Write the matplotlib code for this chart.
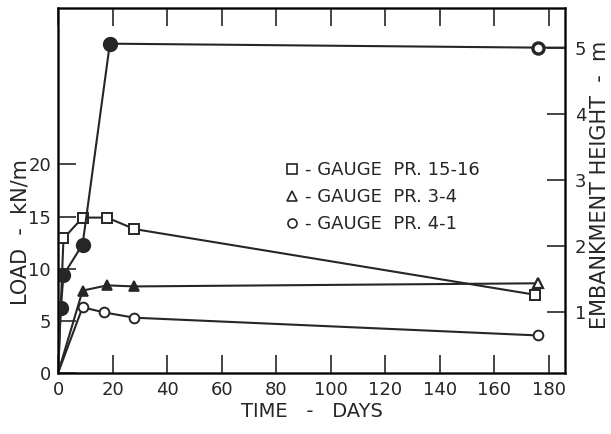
import matplotlib
matplotlib.use("Agg")
import matplotlib.pyplot as plt
from matplotlib.lines import Line2D

INK = "#262626"

# embankment height (m) vs time (days); last entry carries the line to the frame edge
EMB_DAYS = [0, 1, 2, 9, 19, 176, 186]
EMB_HEIGHT = [0.0, 1.06, 1.56, 2.02, 5.06, 5.0, 5.0]

# earth pressure gauges, load in kN/m
PR1516_DAYS = [0, 2, 9, 18, 28, 175]
PR1516_LOAD = [0.0, 12.9, 14.9, 14.9, 13.8, 7.5]

PR34_DAYS = [0, 9, 18, 28, 176]
PR34_LOAD = [0.0, 7.9, 8.4, 8.3, 8.6]

PR41_DAYS = [0, 9, 17, 28, 176]
PR41_LOAD = [0.0, 6.3, 5.8, 5.3, 3.6]

X_TICKS = [0, 20, 40, 60, 80, 100, 120, 140, 160, 180]
LOAD_TICKS = [0, 5, 10, 15, 20]
HEIGHT_TICKS = [1, 2, 3, 4, 5]

plt.rcParams["font.family"] = ["DejaVu Sans"]

fig = plt.figure(figsize=(6.11, 4.34), dpi=100)
ax = fig.add_axes([0.095, 0.1406, 0.83, 0.841])
ax2 = ax.twinx()

ax.set_xlim(0, 186)
ax.set_ylim(0, 35)
ax2.set_ylim(0.076, 5.6)

lw = 1.5
ax.plot(PR1516_DAYS, PR1516_LOAD, color=INK, lw=lw, marker="s", ms=6.5,
        mfc="white", mec=INK, mew=1.4, markevery=list(range(1, len(PR1516_DAYS))))
ax.plot(PR34_DAYS, PR34_LOAD, color=INK, lw=lw, marker="^", ms=7,
        mfc=INK, mec=INK, mew=1.2, markevery=list(range(1, len(PR34_DAYS) - 1)))
ax.plot(PR34_DAYS[-1:], PR34_LOAD[-1:], ls="none", marker="^", ms=7,
        mfc="white", mec=INK, mew=1.6)
ax.plot(PR41_DAYS, PR41_LOAD, color=INK, lw=lw, marker="o", ms=7,
        mfc="white", mec=INK, mew=1.4, markevery=list(range(1, len(PR41_DAYS))))

ax2.plot(EMB_DAYS, EMB_HEIGHT, color=INK, lw=lw, marker="o", ms=10,
         mfc=INK, mec=INK, markevery=[1, 2, 3, 4])
ax2.plot(EMB_DAYS[5:6], EMB_HEIGHT[5:6], ls="none", marker="o", ms=8,
         mfc="white", mec=INK, mew=2.4)

for s in ax.spines.values():
    s.set_linewidth(1.8)
    s.set_color(INK)

ax.set_xticks(X_TICKS)
ax.set_xticklabels([str(v) for v in X_TICKS])
ax.set_yticks(LOAD_TICKS)
ax.set_yticklabels([str(v) for v in LOAD_TICKS])
ax2.set_yticks(HEIGHT_TICKS)
ax2.set_yticklabels([str(v) for v in HEIGHT_TICKS])

ax.tick_params(axis="x", direction="in", length=13, width=1.2, color=INK,
               labelsize=13, labelcolor=INK, pad=6, top=True)
ax.tick_params(axis="y", direction="in", length=13, width=1.2, color=INK,
               labelsize=13, labelcolor=INK, pad=5)
ax2.tick_params(axis="y", direction="in", length=13, width=1.2, color=INK,
                labelsize=13, labelcolor=INK, pad=7)

fig.text(0.033, 0.465, "LOAD  -  kN/m", rotation=90, ha="center", va="center",
         fontsize=15, color=INK)
fig.text(0.982, 0.575, "EMBANKMENT HEIGHT  -  m", rotation=90, ha="center",
         va="center", fontsize=15, color=INK)
ax.set_xlabel("TIME   -   DAYS", fontsize=14, color=INK, labelpad=2)

handles = [
    Line2D([], [], ls="none", marker="s", ms=6.5, mfc="white", mec=INK, mew=1.2),
    Line2D([], [], ls="none", marker="^", ms=6.5, mfc="white", mec=INK, mew=1.2),
    Line2D([], [], ls="none", marker="o", ms=6.5, mfc="white", mec=INK, mew=1.2),
]
labels = ["- GAUGE  PR. 15-16", "- GAUGE  PR. 3-4", "- GAUGE  PR. 4-1"]
ax.legend(handles, labels, loc="upper left", bbox_to_anchor=(0.432, 0.605),
          frameon=False, handlelength=0.7, handletextpad=0.35, labelspacing=0.5,
          fontsize=13, labelcolor=INK, borderpad=0)

fig.savefig("out.png", dpi=100, facecolor="white")
